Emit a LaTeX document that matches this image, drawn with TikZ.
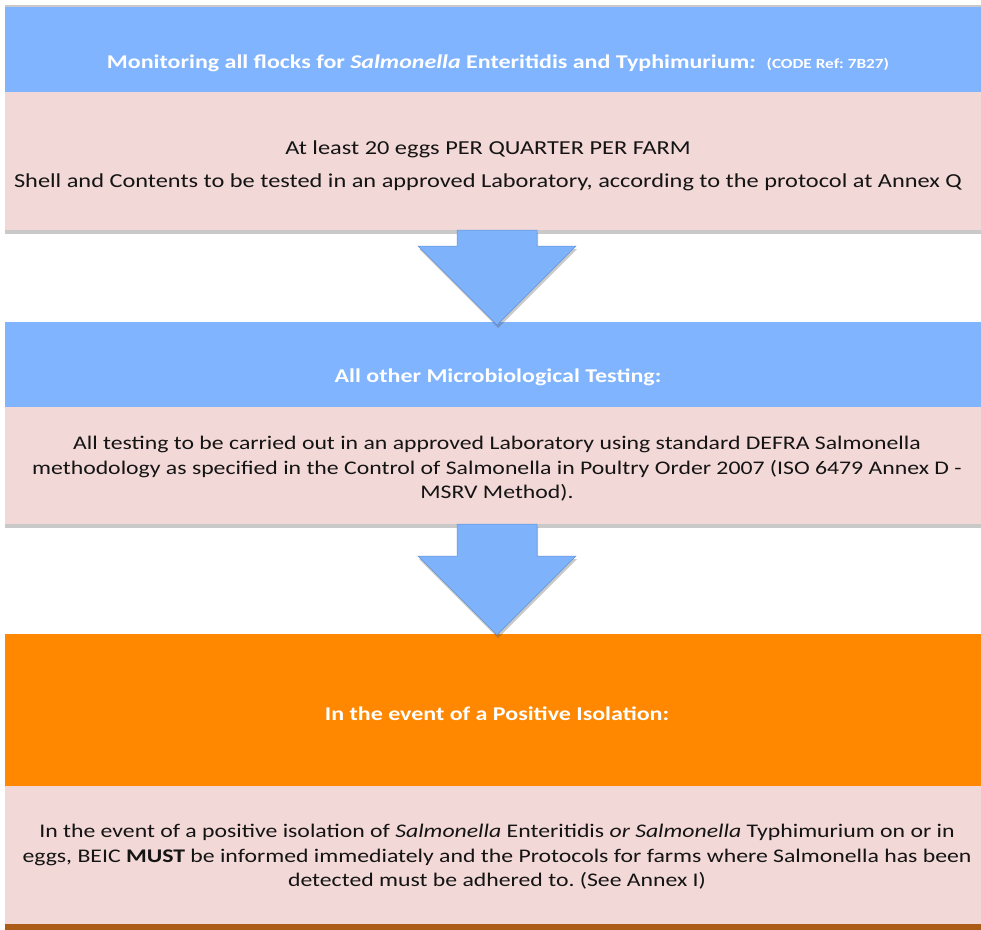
\documentclass[tikz,border=0pt]{standalone}
\usepackage{fontspec}
\setmainfont{Carlito}[FakeStretch=1.23]
\usetikzlibrary{calc,shadows}
\frenchspacing
\definecolor{hdrblue}{RGB}{128,180,255}
\definecolor{bodypink}{RGB}{242,216,214}
\definecolor{hdrorange}{RGB}{255,136,0}
\definecolor{arrblue}{RGB}{126,178,250}
\definecolor{arredge}{RGB}{98,146,214}
\definecolor{barbrown}{RGB}{172,92,22}
\definecolor{txtdark}{RGB}{20,20,20}
\begin{document}
\begin{tikzpicture}[x=1pt,y=-1pt,
  panel/.style={draw=none, minimum width=984pt, anchor=north west, inner sep=0pt, outer sep=0pt},
  hdrbox/.style={panel, fill=hdrblue},
  orgbox/.style={panel, fill=hdrorange},
  bodybox/.style={panel, fill=bodypink, drop shadow={shadow xshift=0pt, shadow yshift=-4pt, opacity=.3, fill=black!70}},
  hdrtext/.style={text=white, font=\fontsize{19.5}{22}\selectfont\bfseries, align=center, inner sep=0pt},
  bodytext/.style={text=txtdark, font=\fontsize{19.3}{24.5}\selectfont, align=center, inner sep=0pt},
  blockarrow/.style={fill=arrblue, draw=arredge, line width=0.5pt, line join=miter, drop shadow={shadow xshift=1pt, shadow yshift=-3pt, opacity=.3, fill=black!70}}
]
\useasboundingbox (0,0) rectangle (981,929);

% panels
\node[hdrbox, minimum height=85pt, drop shadow={shadow xshift=0pt, shadow yshift=2pt, opacity=.3, fill=black!70}] (h1) at (5,7) {};
\node[bodybox, minimum height=138pt] (b1) at (5,92) {};
\node[hdrbox, minimum height=85pt] (h2) at (5,322) {};
\node[bodybox, minimum height=117pt] (b2) at (5,407) {};
\node[orgbox, minimum height=152pt] (h3) at (5,634) {};
\node[panel, fill=barbrown, minimum height=12pt] (bar) at (5,924) {};
\node[panel, fill=bodypink, minimum height=138pt] (b3) at (5,786) {};

% texts
\node[hdrtext] (t1) at (498,63) {Monitoring all flocks for \textit{Salmonella} Enteritidis and Typhimurium\textit{:}\ \ {\fontsize{14}{16}\selectfont (CODE Ref: 7B27)}};
\node[bodytext, font=\fontsize{19.8}{33}\selectfont] (x1) at (488,166) {At least 20 eggs PER QUARTER PER FARM\\Shell and Contents to be tested in an approved Laboratory, according to the protocol at Annex Q};
\node[hdrtext] (t2) at (498,377) {All other Microbiological Testing:};
\node[bodytext] (x2) at (497,469) {All testing to be carried out in an approved Laboratory using standard DEFRA Salmonella\\methodology as specified in the Control of Salmonella in Poultry Order 2007 (ISO 6479 Annex D -\\MSRV Method).};
\node[hdrtext] (t3) at (497,714) {In the event of a Positive Isolation:};
\node[bodytext] (x3) at (497,857) {In the event of a positive isolation of \textit{Salmonella} Enteritidis \textit{or Salmonella} Typhimurium on or in\\eggs, BEIC \textbf{MUST} be informed immediately and the Protocols for farms where Salmonella has been\\detected must be adhered to. (See Annex I)};

% block arrows
\coordinate (tipA) at ($(h2.north)+(0,3)$);
\coordinate (tipB) at ($(h3.north)+(0,1)$);
\draw[blockarrow] ($(b1.south)+(-40,0)$) -- ($(b1.south)+(40,0)$) -- ($(tipA)+(40,-79)$) -- ($(tipA)+(79,-79)$) -- (tipA) -- ($(tipA)+(-79,-79)$) -- ($(tipA)+(-40,-79)$) -- cycle;
\draw[blockarrow] ($(b2.south)+(-40,0)$) -- ($(b2.south)+(40,0)$) -- ($(tipB)+(40,-79)$) -- ($(tipB)+(79,-79)$) -- (tipB) -- ($(tipB)+(-79,-79)$) -- ($(tipB)+(-40,-79)$) -- cycle;
\end{tikzpicture}
\end{document}
